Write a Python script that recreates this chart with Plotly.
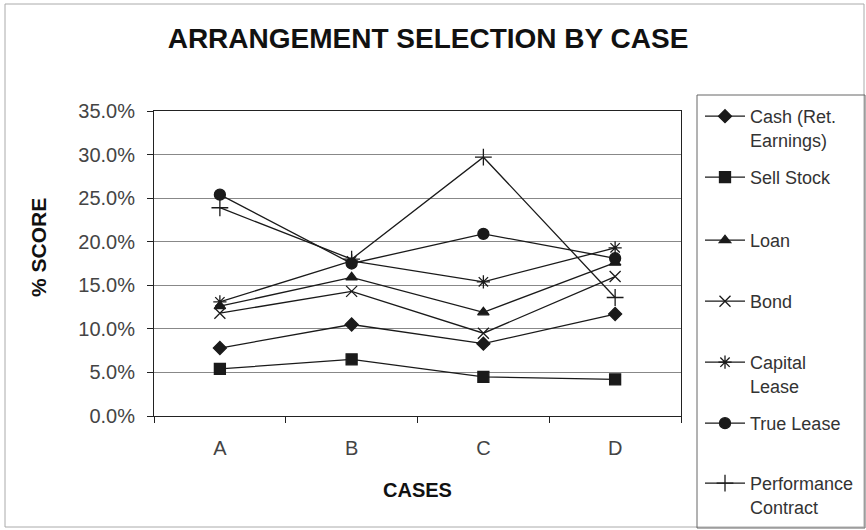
import plotly.graph_objects as go

cases = ["A", "B", "C", "D"]
series_names = ["Cash (Ret.<br>Earnings)", "Sell Stock", "Loan", "Bond",
                "Capital<br>Lease", "True Lease", "Performance<br>Contract"]
cash = [7.8, 10.5, 8.3, 11.7]
sell_stock = [5.4, 6.5, 4.5, 4.2]
loan = [12.6, 15.9, 11.9, 17.6]
bond = [11.8, 14.3, 9.5, 16.0]
capital_lease = [13.1, 17.8, 15.4, 19.3]
true_lease = [25.4, 17.5, 20.9, 18.1]
performance = [23.9, 18.0, 29.7, 13.6]
y_ticks = [0, 5, 10, 15, 20, 25, 30, 35]
y_tick_labels = ["0.0%", "5.0%", "10.0%", "15.0%", "20.0%", "25.0%", "30.0%", "35.0%"]

all_values = [cash, sell_stock, loan, bond, capital_lease, true_lease, performance]
symbols = ["diamond", "square", "triangle-up", "x-thin-open", "asterisk-open", "circle", "cross-thin-open"]
msizes = [10, 11, 10, 11, 11, 11, 12]
legend_first_line_px = [116, 177, 240, 301, 362, 423, 483]

W, H = 866, 530
L, R, T, B = 154, 681, 111, 416
FONT = "Liberation Sans, Arial, sans-serif"

fig = go.Figure()
line_col = "#1a1a1a"
for i, (name, vals) in enumerate(zip(series_names, all_values)):
    lg = "legend" if i == 0 else f"legend{i+1}"
    fig.add_trace(go.Scatter(
        x=cases, y=vals, name=name, mode="lines+markers",
        line=dict(color=line_col, width=1.3),
        marker=dict(symbol=symbols[i], size=msizes[i], color=line_col,
                    line=dict(color=line_col, width=1.3)),
        legend=lg,
    ))

legend_common = dict(
    xref="container", yref="container", xanchor="left", yanchor="top",
    font=dict(family=FONT, size=18, color="#333"),
    bgcolor="rgba(0,0,0,0)", borderwidth=0, valign="top", itemwidth=40,
)
layout_legends = {}
for i, py in enumerate(legend_first_line_px):
    key = "legend" if i == 0 else f"legend{i+1}"
    layout_legends[key] = dict(legend_common, x=700 / W, y=1 - (py - 18) / H)

def px_x(px):
    return (px - L) / (R - L)

def px_y(py):
    return (B - py) / (B - T)

fig.update_layout(
    width=W, height=H,
    margin=dict(l=L, r=W - R, t=T, b=H - B),
    paper_bgcolor="white", plot_bgcolor="white",
    showlegend=True,
    title=dict(text="<b>ARRANGEMENT SELECTION BY CASE</b>", x=428 / W, xanchor="center",
               y=1 - 38 / H, yanchor="middle",
               font=dict(family=FONT, size=28, color="#111")),
    xaxis=dict(
        type="category", range=[-0.5, 3.5], tickson="boundaries",
        ticks="outside", ticklen=6, tickcolor="#222", automargin=False,
        ticklabelstandoff=14,
        showline=True, linecolor="#222", linewidth=1, mirror=True,
        showgrid=False,
        tickfont=dict(family=FONT, size=20, color="#444"),
        title=dict(text="<b>CASES</b>", standoff=24,
                   font=dict(family=FONT, size=20, color="#111")),
    ),
    yaxis=dict(
        range=[0, 35], tickvals=y_ticks, ticktext=y_tick_labels,
        ticks="outside", ticklen=6, tickcolor="#222", automargin=False,
        ticklabelstandoff=8,
        showline=True, linecolor="#222", linewidth=1, mirror=True,
        showgrid=True, gridcolor="#888", gridwidth=1, zeroline=False,
        tickfont=dict(family=FONT, size=20, color="#444"),
    ),
    annotations=[
        dict(text="<b>% SCORE</b>", textangle=-90, showarrow=False,
             xref="paper", yref="paper", x=px_x(38), y=px_y(248),
             xanchor="center", yanchor="middle",
             font=dict(family=FONT, size=21, color="#111")),
    ],
    shapes=[
        dict(type="rect", xref="paper", yref="paper",
             x0=px_x(5), x1=px_x(864), y0=px_y(527), y1=px_y(4),
             line=dict(color="#aaa", width=1), fillcolor="rgba(0,0,0,0)", layer="below"),
        dict(type="rect", xref="paper", yref="paper",
             x0=px_x(697), x1=px_x(865), y0=px_y(528), y1=px_y(95),
             line=dict(color="#666", width=1), fillcolor="rgba(0,0,0,0)", layer="below"),
    ],
    **layout_legends,
)

fig.write_html("out.html", config={"displayModeBar": False},
               post_script="document.body.style.margin='0';")
